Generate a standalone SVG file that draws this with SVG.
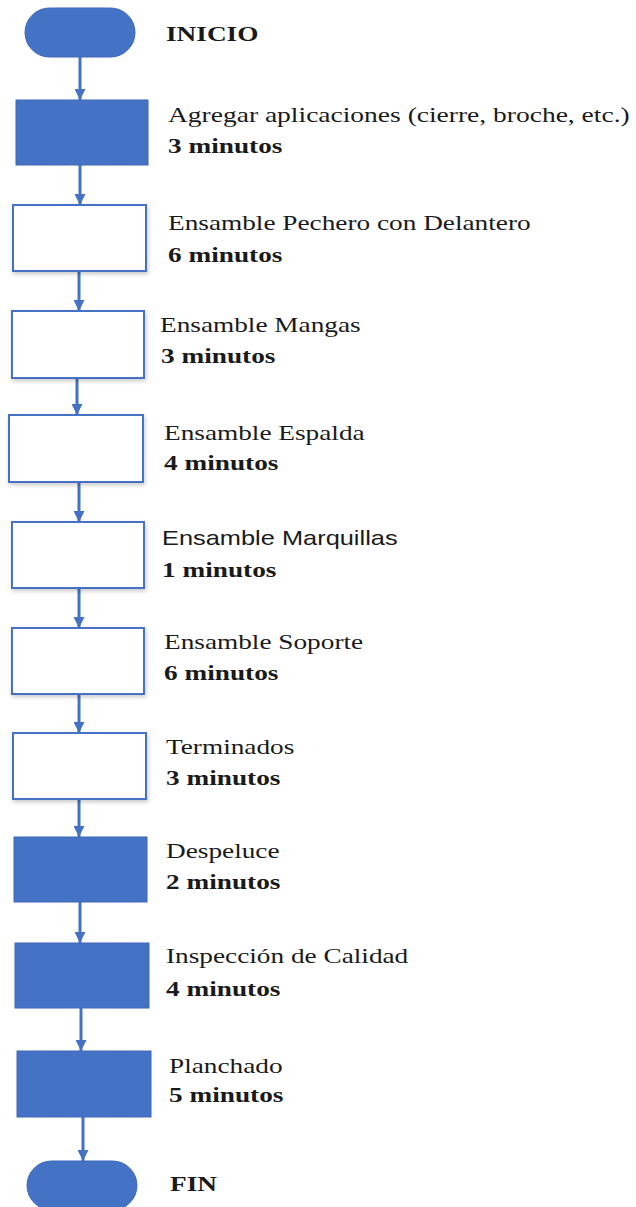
<svg xmlns="http://www.w3.org/2000/svg" width="636" height="1207" viewBox="0 0 636 1207">
<style>
.term{fill:#4472C4;stroke:#3E69B8;stroke-width:1}
.fill{fill:#4472C4;stroke:#3E69B8;stroke-width:1}
.open{fill:#FFFFFF;stroke:#4472C4;stroke-width:2}
.conn{stroke:#4472C4;stroke-width:3;fill:none;marker-end:url(#ah)}
.t{font-family:"Liberation Serif","Times New Roman",serif;font-size:22px;fill:#1a1a1a}
.b{font-weight:bold}
.s{font-family:"Liberation Sans",Arial,sans-serif;font-size:20px;fill:#1a1a1a}
</style>
<defs>
<marker id="ah" viewBox="0 0 10 10" refX="10" refY="5" markerUnits="userSpaceOnUse" markerWidth="12" markerHeight="11" orient="auto">
<path d="M0,0 L10,5 L0,10 Z" fill="#4472C4"/>
</marker>
<filter id="sh" x="-10%" y="-10%" width="125%" height="130%">
<feDropShadow dx="1" dy="2" stdDeviation="2" flood-color="#000" flood-opacity="0.22"/>
</filter>
</defs>
<rect width="636" height="1207" fill="#FFFFFF"/>
<g id="connectors">
<line class="conn" x1="80" y1="57" x2="80" y2="100"/>
<line class="conn" x1="80" y1="165" x2="80" y2="205"/>
<line class="conn" x1="79" y1="271" x2="79" y2="311"/>
<line class="conn" x1="77" y1="378" x2="77" y2="415"/>
<line class="conn" x1="79" y1="482" x2="79" y2="522"/>
<line class="conn" x1="79" y1="588" x2="79" y2="628"/>
<line class="conn" x1="79" y1="694" x2="79" y2="733"/>
<line class="conn" x1="79" y1="799" x2="79" y2="837"/>
<line class="conn" x1="80" y1="902" x2="80" y2="943"/>
<line class="conn" x1="81" y1="1008" x2="81" y2="1051"/>
<line class="conn" x1="83" y1="1117" x2="83" y2="1161"/>
</g>
<g id="inicio">
<rect class="term" x="25" y="8" width="110" height="49" rx="24.5"/>
<text class="t b" transform="translate(166,41) scale(1.24,1)">INICIO</text>
</g>
<g id="n1">
<rect class="fill" x="16" y="100" width="132" height="65"/>
<text class="t" transform="translate(168,122) scale(1.25,1)">Agregar aplicaciones (cierre, broche, etc.)</text>
<text class="t b" transform="translate(168,153) scale(1.24,1)">3 minutos</text>
</g>
<g id="n2">
<rect class="open" x="13" y="205" width="133" height="66" filter="url(#sh)"/>
<text class="t" transform="translate(168,230) scale(1.24,1)">Ensamble Pechero con Delantero</text>
<text class="t b" transform="translate(168,262) scale(1.24,1)">6 minutos</text>
</g>
<g id="n3">
<rect class="open" x="12" y="311" width="132" height="67" filter="url(#sh)"/>
<text class="t" transform="translate(160,332) scale(1.24,1)">Ensamble Mangas</text>
<text class="t b" transform="translate(161,363) scale(1.24,1)">3 minutos</text>
</g>
<g id="n4">
<rect class="open" x="9" y="415" width="134" height="67" filter="url(#sh)"/>
<text class="t" transform="translate(164,440) scale(1.24,1)">Ensamble Espalda</text>
<text class="t b" transform="translate(164,470) scale(1.24,1)">4 minutos</text>
</g>
<g id="n5">
<rect class="open" x="12" y="522" width="132" height="66" filter="url(#sh)"/>
<text class="s" transform="translate(162,545) scale(1.24,1)" textLength="190" lengthAdjust="spacingAndGlyphs">Ensamble Marquillas</text>
<text class="t b" transform="translate(162,577) scale(1.24,1)">1 minutos</text>
</g>
<g id="n6">
<rect class="open" x="12" y="628" width="132" height="66" filter="url(#sh)"/>
<text class="t" transform="translate(164,649) scale(1.24,1)">Ensamble Soporte</text>
<text class="t b" transform="translate(164,680) scale(1.24,1)">6 minutos</text>
</g>
<g id="n7">
<rect class="open" x="13" y="733" width="133" height="66" filter="url(#sh)"/>
<text class="t" transform="translate(166,754) scale(1.24,1)">Terminados</text>
<text class="t b" transform="translate(166,785) scale(1.24,1)">3 minutos</text>
</g>
<g id="n8">
<rect class="fill" x="14" y="837" width="133" height="65"/>
<text class="t" transform="translate(166,858) scale(1.24,1)">Despeluce</text>
<text class="t b" transform="translate(166,889) scale(1.24,1)">2 minutos</text>
</g>
<g id="n9">
<rect class="fill" x="15" y="943" width="134" height="65"/>
<text class="t" transform="translate(166,963) scale(1.24,1)">Inspección de Calidad</text>
<text class="t b" transform="translate(166,996) scale(1.24,1)">4 minutos</text>
</g>
<g id="n10">
<rect class="fill" x="17" y="1051" width="134" height="66"/>
<text class="t" transform="translate(169,1073) scale(1.24,1)">Planchado</text>
<text class="t b" transform="translate(169,1102) scale(1.24,1)">5 minutos</text>
</g>
<g id="fin">
<rect class="term" x="27" y="1161" width="110" height="49" rx="24.5"/>
<text class="t b" transform="translate(170,1191) scale(1.24,1)">FIN</text>
</g>
</svg>
